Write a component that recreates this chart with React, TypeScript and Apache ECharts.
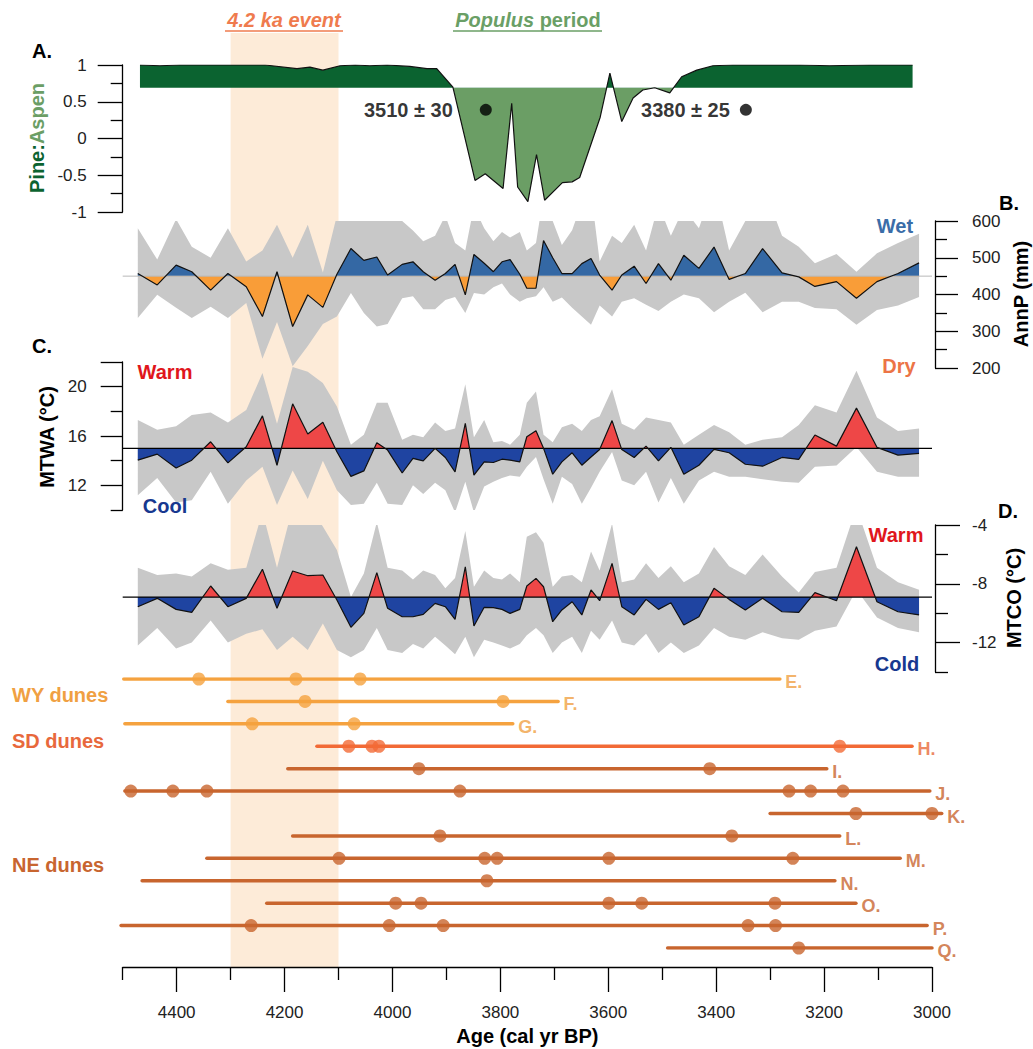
import React, { useEffect, useRef } from 'react';
import * as echarts from 'echarts';

const FONT = '"Liberation Sans", Arial, Helvetica, sans-serif';

// ---------- Age axis ----------
const ageMin = 3000;
const ageMax = 4500;
const ageMajorTicks = [3000, 3200, 3400, 3600, 3800, 4000, 4200, 4400];
const ageMinorTicks = [3100, 3300, 3500, 3700, 3900, 4100, 4300, 4500];
const eventRange = [4300, 4100];

// ---------- A. Pine:Aspen ----------
const paAges = [4468, 4431, 4394, 4357, 4301, 4236, 4177, 4153, 4129, 4097, 4069, 4042, 4010, 3968, 3936, 3918, 3888, 3847, 3828, 3795, 3779, 3768, 3749, 3733, 3718, 3685, 3667, 3653, 3615, 3597, 3575, 3554, 3536, 3514, 3486, 3464, 3436, 3406, 3369, 3245, 3190, 3116, 3036];
const paValues = [1.0, 0.99, 1.0, 1.0, 1.0, 1.0, 0.95, 0.97, 0.93, 0.99, 1.0, 0.99, 1.0, 0.98, 0.95, 0.95, 0.7, -0.57, -0.48, -0.68, 0.48, -0.66, -0.86, -0.22, -0.84, -0.6, -0.59, -0.53, 0.29, 0.89, 0.23, 0.55, 0.66, 0.69, 0.62, 0.84, 0.93, 0.99, 1.0, 1.0, 0.99, 1.0, 1.0];
const paBase = 0.69;
const dateLabels = ['3510 ± 30', '3380 ± 25'];
const dateAges = [3827, 3345];
const dateLevels = [0.39, 0.39];

// ---------- B, C, D reconstructions (shared sample ages) ----------
const recAges = [4472, 4436, 4401, 4372, 4337, 4305, 4271, 4241, 4214, 4185, 4157, 4129, 4103, 4077, 4053, 4029, 4009, 3982, 3962, 3943, 3921, 3902, 3884, 3865, 3849, 3830, 3813, 3797, 3782, 3764, 3751, 3734, 3720, 3703, 3686, 3667, 3649, 3632, 3616, 3593, 3575, 3552, 3530, 3507, 3484, 3460, 3432, 3404, 3376, 3346, 3314, 3278, 3247, 3217, 3177, 3140, 3102, 3063, 3024];

const annP = [457, 426, 480, 462, 412, 457, 421, 340, 462, 313, 399, 365, 455, 525, 493, 502, 453, 482, 489, 462, 439, 457, 482, 399, 509, 485, 462, 489, 495, 455, 417, 417, 547, 500, 457, 457, 484, 498, 453, 412, 453, 477, 430, 484, 439, 507, 471, 529, 441, 457, 525, 459, 448, 422, 435, 390, 435, 457, 486];
const annPUpper = [580, 495, 605, 530, 500, 580, 490, 520, 590, 500, 590, 460, 615, 650, 610, 695, 630, 600, 574, 545, 560, 615, 540, 520, 640, 580, 545, 570, 555, 570, 520, 540, 670, 600, 535, 575, 650, 680, 490, 560, 540, 590, 520, 645, 560, 635, 580, 700, 520, 600, 700, 560, 530, 485, 510, 462, 512, 540, 565];
const annPLower = [336, 399, 364, 336, 367, 336, 377, 225, 325, 205, 260, 320, 340, 404, 350, 313, 320, 390, 395, 360, 360, 385, 393, 350, 404, 400, 420, 430, 400, 380, 390, 395, 420, 380, 392, 364, 340, 318, 370, 340, 380, 390, 372, 355, 380, 400, 390, 352, 380, 405, 352, 380, 380, 363, 360, 318, 358, 370, 393];
const annPBase = 450;

const mtwa = [14.04, 14.53, 13.41, 14.04, 15.53, 13.82, 15.13, 17.63, 13.63, 18.61, 16.16, 17.11, 14.72, 12.73, 13.17, 15.45, 14.86, 13.0, 14.18, 13.98, 15.0, 14.26, 13.09, 17.03, 12.82, 13.9, 13.85, 14.12, 14.04, 13.9, 15.94, 16.43, 15.0, 12.9, 13.9, 14.64, 13.63, 14.3, 14.91, 17.25, 14.9, 14.26, 15.18, 13.98, 15.08, 12.9, 13.63, 14.91, 14.64, 13.71, 13.55, 14.26, 14.1, 16.08, 15.18, 18.26, 15.08, 14.45, 14.59];
const mtwaUpper = [17.3, 16.5, 16.8, 17.7, 17.9, 17.1, 18.1, 21.1, 17.0, 21.6, 21.2, 20.3, 18.4, 15.3, 16.1, 18.7, 18.7, 15.7, 16.1, 15.9, 17.1, 16.4, 16.6, 20.2, 15.9, 17.3, 15.5, 15.6, 15.3, 16.1, 18.7, 19.6, 16.1, 15.5, 16.7, 17.0, 16.4, 17.3, 17.6, 19.8, 17.0, 16.5, 17.5, 17.3, 17.1, 15.3, 16.1, 16.9, 16.3, 15.3, 15.7, 15.9, 16.9, 18.5, 17.9, 21.3, 17.5, 16.4, 16.6];
const mtwaLower = [11.2, 12.6, 10.6, 10.8, 13.1, 10.5, 12.4, 13.5, 10.4, 13.2, 10.9, 14.0, 11.6, 10.4, 10.5, 12.2, 10.5, 10.4, 12.0, 11.3, 12.2, 11.6, 9.8, 12.3, 9.8, 11.9, 12.3, 12.6, 12.8, 12.7, 13.5, 14.3, 12.5, 10.5, 12.7, 12.1, 10.5, 11.8, 13.1, 14.7, 12.4, 12.0, 13.1, 10.6, 12.6, 10.5, 12.4, 13.1, 12.7, 12.7, 12.5, 12.3, 12.2, 13.5, 13.6, 15.1, 13.1, 12.7, 12.7];
const mtwaBase = 15;

const mtco = [-9.56, -8.99, -9.74, -9.94, -8.15, -9.56, -8.99, -7.01, -9.67, -7.13, -7.45, -7.4, -9.1, -10.96, -10.01, -7.24, -9.67, -10.24, -10.24, -10.08, -9.33, -9.56, -10.42, -6.84, -10.87, -9.6, -9.62, -9.74, -10.01, -9.74, -8.15, -7.63, -8.2, -10.58, -9.78, -9.22, -10.12, -8.42, -9.15, -6.61, -9.56, -10.12, -9.06, -9.74, -9.29, -10.8, -10.24, -8.31, -9.06, -9.78, -8.99, -9.9, -9.94, -8.6, -9.15, -5.48, -9.22, -9.9, -10.12];
const mtcoUpper = [-6.9, -7.4, -7.3, -7.5, -6.6, -7.05, -6.9, -3.1, -6.9, -2.8, -2.6, -4.1, -5.7, -8.9, -7.3, -3.8, -6.9, -7.1, -7.7, -7.1, -7.4, -8.3, -7.6, -4.4, -8.2, -7.1, -7.6, -7.7, -7.3, -7.9, -4.8, -4.5, -5.2, -8.2, -7.5, -7.4, -7.9, -5.8, -7.1, -3.9, -7.9, -7.7, -6.6, -7.6, -6.8, -7.9, -7.3, -5.5, -6.8, -7.4, -6.0, -7.5, -8.6, -7.2, -6.9, -2.8, -6.9, -7.9, -8.4];
const mtcoLower = [-12.2, -11.0, -12.4, -12.0, -10.5, -12.0, -11.4, -11.1, -12.5, -11.6, -12.5, -10.7, -12.5, -13.0, -12.5, -11.0, -12.5, -12.7, -12.1, -12.4, -11.6, -12.2, -12.8, -11.6, -13.0, -11.8, -12.0, -12.2, -12.4, -12.1, -11.5, -11.0, -11.5, -12.7, -12.0, -11.6, -12.7, -11.2, -11.8, -10.5, -12.0, -12.2, -11.4, -12.7, -12.0, -12.7, -12.2, -11.0, -11.6, -11.8, -11.3, -11.7, -11.8, -11.2, -10.9, -8.4, -10.3, -11.0, -11.3];
const mtcoBase = -8.9;

// ---------- Dunes ----------
const duneNames = ['E', 'F', 'G', 'H', 'I', 'J', 'K', 'L', 'M', 'N', 'O', 'P', 'Q'];
const duneGroups = ['WY', 'WY', 'WY', 'SD', 'NE', 'NE', 'NE', 'NE', 'NE', 'NE', 'NE', 'NE', 'NE'];
const duneStart = [4498, 4305, 4496, 4140, 4194, 4496, 3300, 4185, 4344, 4464, 4233, 4503, 3490];
const duneEnd = [3282, 3693, 3777, 3037, 3195, 3004, 2982, 3171, 3059, 3180, 3141, 3009, 3000];
const duneDates = [
  [4359, 4179, 4060],
  [4162, 3795],
  [4260, 4071],
  [4081, 4038, 4025, 3171],
  [3951, 3412],
  [4485, 4407, 4344, 3875, 3265, 3225, 3165],
  [3141, 3000],
  [3912, 3371],
  [4099, 3829, 3806, 3599, 3258],
  [3825],
  [3994, 3947, 3599, 3538, 3291],
  [4262, 4006, 3906, 3341, 3290],
  [3247],
];
const groupColors: Record<string, string> = { WY: '#f5a23f', SD: '#f26a36', NE: '#c8652e' };
const groupTextColors: Record<string, string> = { WY: '#f0a042', SD: '#e8683c', NE: '#c8652f' };

const C = {
  black: '#111',
  band: '#fdebd8',
  gray: '#c8c8c8',
  darkGreen: '#0b6330',
  lightGreen: '#6b9e65',
  wet: '#3468a4',
  dry: '#f99d38',
  warm: '#ee4747',
  cool: '#1f44a1',
  warmText: '#e0161c',
  coolText: '#17388f',
  wetText: '#3b6da8',
  dryText: '#ec7446',
  eventText: '#ef7b4e',
  populusText: '#6a9f66',
};

function buildOption(): any {
  const L = 122.7;
  const W = 809.3;
  const g = (top: number, height: number) => ({ left: L, width: W, top, height, containLabel: false, outerBoundsMode: 'none' });
  const grid = [g(33, 934), g(65, 147), g(221, 147), g(362, 148), g(525, 147), g(679, 269)];

  const axisLineStyle = { color: '#000', width: 1.3 };
  const xBase = { type: 'value', min: ageMin, max: ageMax, inverse: true, splitLine: { show: false } };
  const xAxis: any[] = [
    {
      ...xBase, gridIndex: 0, position: 'bottom',
      axisLine: { show: true, lineStyle: axisLineStyle },
      axisTick: { show: true, length: 25, customValues: ageMajorTicks, lineStyle: axisLineStyle },
      axisLabel: { show: true, customValues: ageMajorTicks, formatter: (v: number) => String(v), fontSize: 17, color: '#222', margin: 37, fontFamily: FONT },
      name: 'Age (cal yr BP)', nameLocation: 'middle', nameGap: 56,
      nameTextStyle: { fontSize: 20, fontWeight: 'bold', color: '#000', fontFamily: FONT },
    },
    { ...xBase, gridIndex: 1, show: false },
    { ...xBase, gridIndex: 2, show: false },
    { ...xBase, gridIndex: 3, show: false },
    { ...xBase, gridIndex: 4, show: false },
    { ...xBase, gridIndex: 5, show: false },
    {
      ...xBase, gridIndex: 0, position: 'bottom',
      axisLine: { show: false },
      axisTick: { show: true, length: 13, customValues: ageMinorTicks, lineStyle: axisLineStyle },
      axisLabel: { show: false },
    },
  ];

  const lbl = (margin: number) => ({ fontSize: 17, color: '#222', margin, fontFamily: FONT });
  const yAxis: any[] = [
    { gridIndex: 0, type: 'value', min: 0, max: 1, show: false, splitLine: { show: false } },
    {
      gridIndex: 1, type: 'value', min: -1, max: 1, interval: 0.5, position: 'left',
      axisLine: { show: true, lineStyle: axisLineStyle },
      axisTick: { show: true, length: 25, lineStyle: axisLineStyle },
      minorTick: { show: true, splitNumber: 2, length: 12, lineStyle: axisLineStyle },
      axisLabel: lbl(36), splitLine: { show: false }, minorSplitLine: { show: false },
    },
    {
      gridIndex: 2, type: 'value', min: 200, max: 600, interval: 100, position: 'right', offset: 3,
      axisLine: { show: true, lineStyle: axisLineStyle },
      axisTick: { show: true, length: 23, lineStyle: axisLineStyle },
      minorTick: { show: true, splitNumber: 2, length: 12, lineStyle: axisLineStyle },
      axisLabel: lbl(37), splitLine: { show: false }, minorSplitLine: { show: false },
    },
    {
      gridIndex: 3, type: 'value', min: 10, max: 22, position: 'left',
      axisLine: { show: true, lineStyle: axisLineStyle },
      axisTick: { show: true, length: 22, customValues: [12, 16, 20, 22], lineStyle: axisLineStyle },
      axisLabel: { ...lbl(36), customValues: [12, 16, 20] }, splitLine: { show: false },
    },
    {
      gridIndex: 3, type: 'value', min: 10, max: 22, position: 'left',
      axisLine: { show: false },
      axisTick: { show: true, length: 12, customValues: [10, 14, 18], lineStyle: axisLineStyle },
      axisLabel: { show: false }, splitLine: { show: false },
    },
    {
      gridIndex: 4, type: 'value', min: -14, max: -4, position: 'right', offset: 3,
      axisLine: { show: true, lineStyle: axisLineStyle },
      axisTick: { show: true, length: 25, customValues: [-4, -8, -12], lineStyle: axisLineStyle },
      axisLabel: { ...lbl(37), customValues: [-4, -8, -12] }, splitLine: { show: false },
    },
    {
      gridIndex: 4, type: 'value', min: -14, max: -4, position: 'right', offset: 3,
      axisLine: { show: false },
      axisTick: { show: true, length: 13, customValues: [-6, -10, -14], lineStyle: axisLineStyle },
      axisLabel: { show: false }, splitLine: { show: false },
    },
    { gridIndex: 5, type: 'category', data: duneNames, inverse: true, boundaryGap: false, show: false },
  ];

  const series: any[] = [];
  const visualMap: any[] = [];
  const hidden = { width: 0, opacity: 0 };

  // 4.2 ka event band: area from the band grid's top down to its bottom
  series.push({
    type: 'line', xAxisIndex: 0, yAxisIndex: 0, z: 0, silent: true, showSymbol: false, symbol: 'none',
    data: [[eventRange[0], 1], [eventRange[1], 1]],
    lineStyle: hidden, areaStyle: { color: C.band, opacity: 1, origin: 'start' },
  });

  // grey reconstruction ranges (stacked on the value dimension: lower + (upper - lower))
  const rangeBand = (key: string, xi: number, yi: number, lower: number[], upper: number[]) => {
    series.push({
      type: 'line', xAxisIndex: xi, yAxisIndex: yi, z: 2, silent: true, showSymbol: false, symbol: 'none',
      stack: key, stackStrategy: 'all', encode: { x: 1, y: 0 },
      data: recAges.map((a, i) => [lower[i], a]), lineStyle: hidden,
    });
    series.push({
      type: 'line', xAxisIndex: xi, yAxisIndex: yi, z: 2, silent: true, showSymbol: false, symbol: 'none',
      stack: key, stackStrategy: 'all', encode: { x: 1, y: 0 },
      data: recAges.map((a, i) => [upper[i] - lower[i], a]), lineStyle: hidden,
      areaStyle: { color: C.gray, opacity: 1 },
    });
  };
  rangeBand('b', 2, 2, annPLower, annPUpper);
  rangeBand('c', 3, 3, mtwaLower, mtwaUpper);
  rangeBand('d', 4, 5, mtcoLower, mtcoUpper);

  const twoTone = (xi: number, yi: number, ages: number[], vals: number[], base: number, lo: number, hi: number, above: string, below: string, baseLine: any) => {
    const data = ages.map((a, i) => [a, vals[i]]);
    visualMap.push({
      type: 'piecewise', show: false, seriesIndex: series.length, dimension: 1,
      pieces: [{ min: lo, max: base, color: below }, { min: base, max: hi, color: above }],
    });
    series.push({
      type: 'line', xAxisIndex: xi, yAxisIndex: yi, z: 3, silent: true, showSymbol: false, symbol: 'none',
      data, lineStyle: hidden, areaStyle: { origin: base, opacity: 1 },
    });
    if (baseLine) {
      series.push({
        type: 'line', xAxisIndex: xi, yAxisIndex: yi, z: 4, silent: true, showSymbol: false, symbol: 'none',
        data: [[ageMax, base], [ageMin, base]], lineStyle: baseLine,
      });
    }
    series.push({
      type: 'line', xAxisIndex: xi, yAxisIndex: yi, z: 4, silent: true, showSymbol: false, symbol: 'none',
      data, lineStyle: { color: C.black, width: 1.2 },
    });
  };
  twoTone(1, 1, paAges, paValues, paBase, -2, 2, C.darkGreen, C.lightGreen, null);
  twoTone(2, 2, recAges, annP, annPBase, 0, 800, C.wet, C.dry, { color: '#b8b8b8', width: 1 });
  twoTone(3, 3, recAges, mtwa, mtwaBase, 0, 30, C.warm, C.cool, { color: '#000', width: 1.2 });
  twoTone(4, 5, recAges, mtco, mtcoBase, -20, 0, C.warm, C.cool, { color: '#000', width: 1.2 });

  // radiocarbon dates in panel A
  series.push({
    type: 'scatter', xAxisIndex: 1, yAxisIndex: 1, z: 6, silent: true, symbolSize: 12,
    itemStyle: { color: '#000' },
    data: dateAges.map((a, i) => ({
      value: [a, dateLevels[i]],
      label: { show: true, position: 'left', distance: i === 0 ? 27 : 10, formatter: dateLabels[i], fontSize: 20, fontWeight: 'bold', color: '#000', fontFamily: FONT },
    })),
  });

  // dunes
  duneNames.forEach((n, i) => {
    const col = groupColors[duneGroups[i]];
    series.push({
      type: 'line', xAxisIndex: 5, yAxisIndex: 7, z: 5, silent: true, showSymbol: false, symbol: 'none', clip: false,
      data: [[duneStart[i], n], [duneEnd[i], n]],
      lineStyle: { color: col, width: 3.5, cap: 'round' },
    });
    series.push({
      type: 'scatter', xAxisIndex: 5, yAxisIndex: 7, z: 6, silent: true, clip: false, symbolSize: 13,
      itemStyle: { color: col },
      data: duneDates[i].map((a) => [a, n]),
    });
  });
  series.push({
    type: 'scatter', xAxisIndex: 5, yAxisIndex: 7, z: 6, silent: true, clip: false, symbolSize: 1,
    itemStyle: { color: 'rgba(0,0,0,0)' },
    data: duneNames.map((n, i) => ({
      value: [duneEnd[i], n],
      label: { show: true, position: 'right', distance: 5, offset: [0, 3], formatter: n + '.', fontSize: 18, fontWeight: 'bold', color: groupTextColors[duneGroups[i]], fontFamily: FONT },
    })),
  });

  const txt = (text: string, x: number, y: number, fill: string, extra: any = {}, rotation = 0) => ({
    type: 'text', x, y, rotation, z: 10, silent: true,
    style: { text, fill, fontSize: 20, fontWeight: 'bold', fontFamily: FONT, align: 'center', verticalAlign: 'middle', ...extra },
  });
  const underline = (x1: number, x2: number, y: number, color: string) => ({
    type: 'line', z: 10, silent: true, shape: { x1, y1: y, x2, y2: y }, style: { stroke: color, lineWidth: 1.6 },
  });

  const graphic: any[] = [
    txt('4.2 ka event', 284, 20, C.eventText, { fontStyle: 'italic' }),
    underline(225, 343, 31, C.eventText),
    {
      type: 'text', x: 528, y: 20, z: 10, silent: true,
      style: {
        text: '{i|Populus} {n|period}', align: 'center', verticalAlign: 'middle',
        rich: {
          i: { fill: C.populusText, fontSize: 20, fontWeight: 'bold', fontStyle: 'italic', fontFamily: FONT },
          n: { fill: C.populusText, fontSize: 20, fontWeight: 'bold', fontFamily: FONT },
        },
        fill: C.populusText, fontSize: 20, fontWeight: 'bold', fontFamily: FONT,
      },
    },
    underline(453, 602, 31, C.populusText),
    txt('A.', 42, 51, '#000'),
    txt('B.', 1009, 203, '#000'),
    txt('C.', 42, 346, '#000'),
    txt('D.', 1008, 511, '#000'),
    {
      type: 'text', x: 37, y: 138, rotation: Math.PI / 2, z: 10, silent: true,
      style: {
        text: '{a|Pine:}{b|Aspen}', align: 'center', verticalAlign: 'middle',
        rich: {
          a: { fill: C.darkGreen, fontSize: 20, fontWeight: 'bold', fontFamily: FONT },
          b: { fill: C.lightGreen, fontSize: 20, fontWeight: 'bold', fontFamily: FONT },
        },
        fontSize: 20, fontWeight: 'bold', fontFamily: FONT,
      },
    },
    txt('AnnP (mm)', 1021, 294, '#000', {}, Math.PI / 2),
    txt('MTWA (°C)', 47, 437, '#000', {}, Math.PI / 2),
    txt('MTCO (°C)', 1014, 598, '#000', {}, Math.PI / 2),
    txt('Wet', 895, 226, C.wetText),
    txt('Dry', 899, 366, C.dryText),
    txt('Warm', 165, 372, C.warmText),
    txt('Cool', 165, 506, C.coolText),
    txt('Warm', 896, 535, C.warmText),
    txt('Cold', 897, 664, C.coolText),
    txt('WY dunes', 12, 695, groupTextColors.WY, { align: 'left' }),
    txt('SD dunes', 12, 741, groupTextColors.SD, { align: 'left' }),
    txt('NE dunes', 12, 865, groupTextColors.NE, { align: 'left' }),
  ];

  return {
    animation: false,
    backgroundColor: '#fff',
    textStyle: { fontFamily: FONT },
    grid, xAxis, yAxis, visualMap, series, graphic,
  };
}

export default function App() {
  const ref = useRef<HTMLDivElement>(null);
  useEffect(() => {
    const chart = echarts.init(ref.current!, null, { renderer: 'svg' });
    chart.setOption(buildOption());
    return () => chart.dispose();
  }, []);
  return (
    <div
      ref={ref}
      style={{ position: 'absolute', left: 0, top: 0, width: 1033, height: 1049, background: '#fff' }}
    />
  );
}
